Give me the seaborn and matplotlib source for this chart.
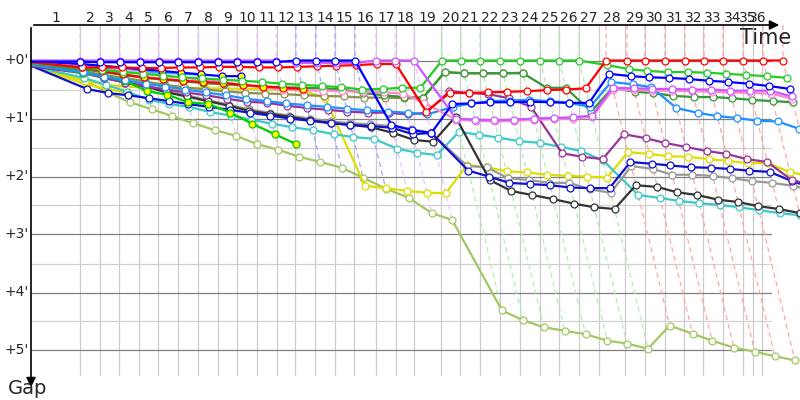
import matplotlib
matplotlib.use("Agg")
import numpy as np
import pandas as pd
import matplotlib.pyplot as plt
import matplotlib.colors as mcolors
import seaborn as sns

# ---- data -------------------------------------------------------------
# time (minutes) at which the race leader completed laps 1..36
leader_times = [3.53, 4.96, 6.40, 7.84, 9.21, 10.58, 12.01, 13.45, 14.82, 16.26,
                17.63, 19.06, 20.50, 21.87, 23.31, 24.82, 26.19, 27.55, 29.57, 30.94,
                32.30, 33.74, 35.18, 36.62, 37.99, 39.42, 41.37, 42.88, 44.17, 45.61,
                47.05, 48.42, 49.78, 51.22, 52.66, 54.10]
# lap boundaries used for the grey grid and the lap numbers (minutes)
lap_marks = [3.53, 4.96, 6.33, 7.77, 9.14, 10.58, 12.01, 13.45, 14.82, 16.26,
             17.70, 18.99, 20.43, 21.87, 23.24, 24.82, 26.26, 27.55, 29.50, 30.86,
             32.30, 33.74, 35.18, 36.62, 37.99, 39.42, 40.86, 42.73, 44.17, 45.61,
             46.98, 48.35, 49.78, 51.22, 51.94, 52.59]
lap_labels = ["1", "2", "3", "4", "5", "6", "7", "8", "9", "10", "11", "12",
              "13", "14", "15", "16", "17", "18", "19", "20", "21", "22", "23", "24",
              "25", "26", "27", "28", "29", "30", "31", "32", "33", "34", "35", "36"]
gap_ticks = [0, 1, 2, 3, 4, 5]
gap_tick_labels = ["+0'", "+1'", "+2'", "+3'", "+4'", "+5'"]

# gap to the leader (minutes) at the end of each lap, lap 0 = start
gap_violet = [0, 0, 0, 0, 0, 0, 0, 0, 0, 0, 0, 0, 0.04, 0.04, 0.04, 0.04, 0, 0, 0,
              1.0, 1.02, 1.03, 1.02, 1.0, 0.99, 0.98, 0.95,
              0.47, 0.48, 0.49, 0.49, 0.5, 0.5, 0.52, 0.52, 0.52, 0.62]
gap_pink = [0.05, 0.1, 0.14, 0.18, 0.22, 0.26, 0.3, 0.33, 0.37, 0.42, 0.46, 0.5, 0.51,
            0.52, 0.53, 0.54, 0.55, 0.57, 0.73, 1.02, 1.04, 1.05, 1.04, 1.02, 1.01, 1.0,
            0.97, 0.5, 0.51, 0.52, 0.52, 0.53, 0.54, 0.55, 0.56, 0.57, 0.66]
gap_red = [0.03, 0.12, 0.12, 0.12, 0.13, 0.13, 0.12, 0.12, 0.11, 0.11, 0.12, 0.12, 0.11,
           0.1, 0.09, 0.08, 0.06, 0.06, 0.88, 0.56, 0.56, 0.55, 0.54, 0.53, 0.51, 0.5,
           0.48, 0, 0, 0, 0, 0, 0, 0, 0, 0, 0]
gap_red_2 = [0.05, 0.12, 0.18, 0.24, 0.29, 0.32, 0.35, 0.37, 0.39, 0.42, 0.45, 0.47, 0.49]
gap_green = [0.05, 0.12, 0.16, 0.2, 0.23, 0.26, 0.29, 0.31, 0.33, 0.35, 0.37, 0.4, 0.42,
             0.44, 0.46, 0.5, 0.49, 0.47, 0.47, 0, 0, 0, 0, 0, 0, 0, 0,
             0.08, 0.15, 0.18, 0.2, 0.2, 0.21, 0.23, 0.25, 0.27, 0.3]
gap_green_2 = [0.05, 0.22, 0.28, 0.35, 0.53, 0.59, 0.72, 0.75, 0.9, 1.09, 1.27, 1.44]
gap_forest = [0.08, 0.15, 0.2, 0.25, 0.3, 0.33, 0.36, 0.39, 0.41, 0.43, 0.45, 0.46, 0.47,
              0.48, 0.5, 0.56, 0.6, 0.63, 0.64, 0.2, 0.22, 0.22, 0.22, 0.22, 0.47, 0.47,
              0.88, 0.47, 0.54, 0.56, 0.61, 0.63, 0.63, 0.65, 0.68, 0.7, 0.72]
gap_olive = [0.08, 0.18, 0.25, 0.3, 0.36, 0.42, 0.46, 0.5, 0.53, 0.56, 0.57, 0.58, 0.6,
             0.61, 0.62, 0.64, 0.64, 0.65, 0.65, 0.2, 0.22, 0.22, 0.22, 0.21]
gap_yellow = [0.1, 0.35, 0.42, 0.45, 0.47, 0.48, 0.48, 0.48, 0.48, 0.49, 0.49, 0.5, 0.52,
              0.65, 2.16, 2.2, 2.25, 2.28, 2.29, 1.8, 1.84, 1.91, 1.93, 1.97, 1.99, 2.0,
              2.02, 1.58, 1.61, 1.65, 1.66, 1.7, 1.73, 1.77, 1.77, 1.92, 2.0]
gap_yellow_2 = [0.1, 0.41, 0.49, 0.56]
gap_cyan = [0.1, 0.3, 0.42, 0.54, 0.68, 0.75, 0.8, 0.89, 0.95, 1.02, 1.09, 1.15, 1.2,
            1.27, 1.32, 1.35, 1.52, 1.59, 1.63, 1.23, 1.28, 1.33, 1.39, 1.42, 1.49, 1.56,
            1.72, 2.32, 2.37, 2.42, 2.46, 2.49, 2.53, 2.58, 2.63, 2.67, 2.72]
gap_lime = [0.1, 0.35, 0.55, 0.72, 0.84, 0.96, 1.08, 1.2, 1.3, 1.44, 1.54, 1.66, 1.75,
            1.85, 2.02, 2.21, 2.37, 2.63, 2.75, 4.31, 4.48, 4.6, 4.66, 4.72, 4.83, 4.88,
            4.97, 4.57, 4.71, 4.83, 4.95, 5.02, 5.1, 5.17]
gap_purple = [0.1, 0.22, 0.3, 0.38, 0.45, 0.5, 0.55, 0.6, 0.66, 0.71, 0.73, 0.78, 0.82,
              0.85, 0.88, 0.9, 0.9, 0.93, 0.9, 0.53, 0.56, 0.58, 0.65, 0.8, 1.6, 1.66,
              1.7, 1.27, 1.34, 1.42, 1.49, 1.56, 1.61, 1.7, 1.75, 2.06, 2.15]
gap_sky = [0.08, 0.2, 0.28, 0.34, 0.4, 0.45, 0.5, 0.55, 0.6, 0.66, 0.7, 0.74, 0.77, 0.8,
           0.83, 0.86, 0.88, 0.9, 0.93, 0.8, 0.74, 0.7, 0.69, 0.68, 0.7, 0.73, 0.8,
           0.37, 0.41, 0.46, 0.82, 0.9, 0.96, 0.99, 1.04, 1.05, 1.18]
gap_sky_2 = [0.03, 0.08, 0.11, 0.13, 0.18, 0.22, 0.22, 0.25]
gap_blue = [0.02, 0.02, 0.03, 0.03, 0.03, 0.03, 0.03, 0.03, 0.03, 0.03, 0.03, 0.03,
            0, 0, 0, 0, 1.11, 1.2, 1.25, 0.75, 0.74, 0.72, 0.72, 0.71, 0.72, 0.73, 0.73,
            0.23, 0.27, 0.29, 0.3, 0.32, 0.35, 0.37, 0.4, 0.44, 0.49]
gap_blue_2 = [0.03, 0.06, 0.09, 0.12, 0.15, 0.18, 0.21, 0.24, 0.27, 0.27]
gap_navy = [0.1, 0.49, 0.56, 0.6, 0.65, 0.7, 0.75, 0.8, 0.85, 0.9, 0.95, 1.0, 1.04, 1.08,
            1.11, 1.13, 1.16, 1.27, 1.25, 1.9, 2.0, 2.11, 2.13, 2.15, 2.19, 2.2, 2.2,
            1.75, 1.78, 1.81, 1.84, 1.85, 1.87, 1.9, 1.92, 2.08, 2.2]
gap_black = [0.1, 0.2, 0.3, 0.38, 0.45, 0.55, 0.62, 0.7, 0.78, 0.87, 0.92, 0.97, 1.03,
             1.08, 1.11, 1.15, 1.25, 1.37, 1.4, 0.97, 2.06, 2.25, 2.32, 2.39, 2.47, 2.53,
             2.56, 2.15, 2.18, 2.27, 2.32, 2.4, 2.44, 2.51, 2.56, 2.63, 2.7]
gap_grey = [0.1, 0.2, 0.28, 0.36, 0.43, 0.52, 0.6, 0.68, 0.76, 0.84, 0.9, 0.95, 1.0,
            1.05, 1.08, 1.1, 1.13, 1.18, 1.25, 1.82, 1.84, 2.03, 2.06, 2.11, 2.11, 2.22,
            2.28, 1.82, 1.87, 1.97, 1.97, 1.99, 2.03, 2.08, 2.11, 2.16, 2.25]

# (series, line colour, marker fill) -- drawn in this order
cars = [
    (gap_lime, "#a3c763", "white"),
    (gap_yellow_2, "#dddd00", "#ffff00"),
    (gap_yellow, "#dddd00", "white"),
    (gap_cyan, "#3cc8c8", "white"),
    (gap_grey, "#999999", "white"),
    (gap_black, "#333333", "white"),
    (gap_navy, "#1111cc", "white"),
    (gap_purple, "#993399", "white"),
    (gap_green_2, "#00cc00", "#ffff00"),
    (gap_olive, "#8f8f4f", "white"),
    (gap_forest, "#339933", "white"),
    (gap_sky, "#1e90ff", "white"),
    (gap_sky_2, "#33aaff", "#ffff00"),
    (gap_blue_2, "#0000ff", "#ffff00"),
    (gap_pink, "#ff88cc", "white"),
    (gap_red_2, "#ff0000", "#ffff00"),
    (gap_green, "#22cc22", "white"),
    (gap_red, "#ff0000", "white"),
    (gap_violet, "#cc55ff", "white"),
    (gap_blue, "#0000ff", "white"),
]

# ---- layout ------------------------------------------------------------
X0_PX, X_SCALE = 31, 13.9      # pixel of time 0, pixels per minute
Y0_PX, Y_SCALE = 60.5, 58      # pixel of gap 0, pixels per minute
W, H = 800, 400
AXIS_Y = (25 - Y0_PX) / Y_SCALE
GRID_END = (771 - X0_PX) / X_SCALE
VGRID_END = (375 - Y0_PX) / Y_SCALE

sns.set_style("white")
fig = plt.figure(figsize=(8, 4), dpi=100)
ax = fig.add_axes([0, 0, 1, 1])
ax.set_xlim(-X0_PX / X_SCALE, (W - X0_PX) / X_SCALE)
ax.set_ylim((H - Y0_PX) / Y_SCALE, -Y0_PX / Y_SCALE)
ax.axis("off")

# grid
for t in lap_marks:
    ax.plot([t, t], [AXIS_Y, VGRID_END], color="#cccccc", lw=0.9, zorder=0)
for g in np.arange(0.5, 5.0, 1.0):
    ax.plot([0, GRID_END], [g, g], color="#d0d0d0", lw=0.9, zorder=0)
for g in gap_ticks:
    ax.plot([0, GRID_END], [g, g], color="#808080", lw=0.9, zorder=0)

# long table of every lap crossing
rows = []
for i, (gaps, color, face) in enumerate(cars):
    for lap, g in enumerate(gaps):
        t0 = 0.0 if lap == 0 else leader_times[lap - 1]
        rows.append({"car": i, "lap": lap, "gap": g, "time": t0 + g})
df = pd.DataFrame(rows)

# dashed lines joining the same lap of every car, coloured after the leader
for lap, t in enumerate(leader_times, start=1):
    sub = df[df["lap"] == lap]
    gmax = sub["gap"].max()
    lead = cars[int(sub.loc[sub["gap"].idxmin(), "car"])][1]
    rgb = np.array(mcolors.to_rgb(lead))
    light = 1 - 0.35 * (1 - rgb)
    ax.plot([t, t, t + gmax], [AXIS_Y, 0, gmax], color=light, lw=0.9,
            ls=(0, (4, 3)), zorder=1)

# car traces
for i, (gaps, color, face) in enumerate(cars):
    sub = df[df["car"] == i]
    sns.lineplot(data=sub, x="time", y="gap", ax=ax, color=color, lw=1.6,
                 sort=False, estimator=None, marker="o", markersize=5,
                 markerfacecolor=face, markeredgecolor=color, markeredgewidth=0.9,
                 markevery=list(range(1, len(sub))), zorder=2 + i * 0.01,
                 legend=False)
ax.set_xlim(-X0_PX / X_SCALE, (W - X0_PX) / X_SCALE)
ax.set_ylim((H - Y0_PX) / Y_SCALE, -Y0_PX / Y_SCALE)
ax.axis("off")

# axes with arrows
ax.annotate("", xy=((782 - X0_PX) / X_SCALE, AXIS_Y), xytext=(0, AXIS_Y),
            arrowprops=dict(arrowstyle="-|>", color="black", lw=1.2,
                            mutation_scale=14), zorder=5)
ax.annotate("", xy=(0, (390 - Y0_PX) / Y_SCALE), xytext=(0, AXIS_Y),
            arrowprops=dict(arrowstyle="-|>", color="black", lw=1.2,
                            mutation_scale=14), zorder=5)

# lap numbers
bounds = [0.0] + lap_marks
for k, lab in enumerate(lap_labels):
    mid = (bounds[k] + bounds[k + 1]) / 2
    ax.text(mid, (18 - Y0_PX) / Y_SCALE, lab, ha="center", va="center",
            fontsize=10, zorder=6)
for g, lab in zip(gap_ticks, gap_tick_labels):
    ax.text((29 - X0_PX) / X_SCALE, g, lab, ha="right", va="center",
            fontsize=10, zorder=6)

ax.text((766 - X0_PX) / X_SCALE, (38 - Y0_PX) / Y_SCALE, "Time", ha="center",
        va="center", fontsize=15, zorder=6)
ax.text((28 - X0_PX) / X_SCALE, (389 - Y0_PX) / Y_SCALE, "Gap", ha="center",
        va="center", fontsize=14, zorder=6)

fig.savefig("out.png", dpi=100)
